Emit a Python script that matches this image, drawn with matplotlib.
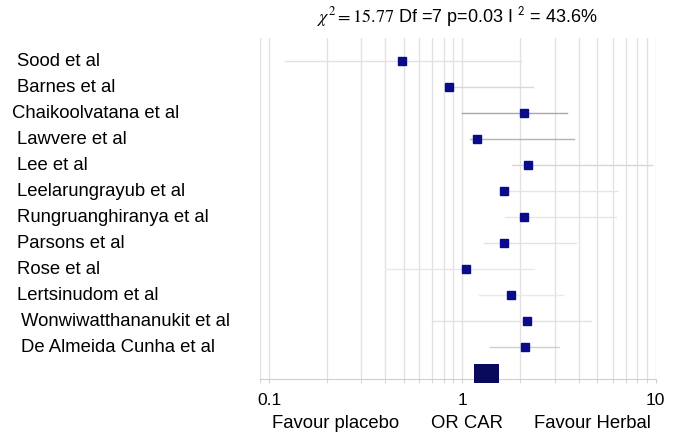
import numpy as np
import matplotlib
matplotlib.use('Agg')
import matplotlib.pyplot as plt
from matplotlib.ticker import LogLocator, NullFormatter

plt.rcParams['font.family'] = ['Liberation Sans', 'DejaVu Sans']
plt.rcParams['mathtext.fontset'] = 'stix'

# studies, odds ratios and confidence intervals
studies = ['Sood et al', 'Barnes et al', 'Chaikoolvatana et al', 'Lawvere et al',
           'Lee et al', 'Leelarungrayub et al', 'Rungruanghiranya et al',
           'Parsons et al', 'Rose et al', 'Lertsinudom et al',
           'Wonwiwatthananukit et al', 'De Almeida Cunha et al']
odds = [0.49, 0.85, 2.08, 1.19, 2.18, 1.64, 2.08, 1.64, 1.04, 1.79, 2.15, 2.10]
ci_low = [0.121, 0.85, 1.00, 1.10, 1.80, 1.60, 1.67, 1.29, 0.41, 1.22, 0.70, 1.39]
ci_high = [2.01, 2.31, 3.50, 3.80, 9.6, 6.4, 6.25, 3.88, 2.36, 3.30, 4.64, 3.18]
pooled_or = 1.34
pooled_low = 1.154
pooled_high = 1.555

# styling
line_grey = ['#e2e2e2', '#d8d8d8', '#a8a8a8', '#b4b4b4', '#d6d6d6', '#e6e6e6',
             '#e6e6e6', '#e2e2e2', '#e8e8e8', '#eaeaea', '#e2e2e2', '#cfcfcf']
label_shift = [0, 0, -5, 0, 0, 0, 0, 0, 0, 0, 4, 4]  # px

W, H = 697, 444
fig = plt.figure(figsize=(W / 100, H / 100), dpi=100)
ax = fig.add_axes([260 / W, 1 - 379 / H, (656 - 260) / W, (379 - 38) / H])

ypos = np.arange(1, len(studies) + 1)
for i in range(len(studies)):
    ax.plot([ci_low[i], ci_high[i]], [ypos[i], ypos[i]], color=line_grey[i], lw=1, zorder=2)
ax.plot(odds, ypos, 's', color='#0a0a8c', ms=5.2, zorder=3)
ax.barh(len(studies) + 1, pooled_high - pooled_low, left=pooled_low, height=0.73,
        color='#0a0a5c', zorder=3, clip_on=False)

ax.set_xscale('log')
ax.set_xlim(0.0898, 10.05)
ax.set_ylim(13.23, 0.12)
ax.xaxis.set_major_locator(LogLocator(base=10))
ax.xaxis.set_minor_locator(LogLocator(base=10, subs=np.arange(2, 10)))
ax.xaxis.set_minor_formatter(NullFormatter())
ax.set_xticks([0.1, 1, 10])
ax.set_xticklabels(['0.1', '1', '10'], fontsize=12.5)
ax.grid(True, which='both', axis='x', color='#e2e2e2', lw=1, zorder=0)
ax.set_yticks([])
ax.tick_params(axis='x', which='both', length=3, color='#d0d0d0', pad=7)
for s in ['top', 'right', 'left']:
    ax.spines[s].set_visible(False)
ax.spines['bottom'].set_color('#cfcfcf')

for i, name in enumerate(studies):
    fig.text((17 + label_shift[i]) / W, 1 - (61 + 26 * i) / H, name,
             fontsize=13.3, ha='left', va='center')

fig.text(457 / W, 1 - 17 / H,
         r'$\chi^2=15.77$ Df =7 p=0.03 I $^{\mathsf{2}}$ = 43.6%',
         fontsize=13, ha='center', va='center')

fig.text(336 / W, 1 - 423 / H, 'Favour placebo', fontsize=13.3, ha='center', va='center')
fig.text(467 / W, 1 - 423 / H, 'OR CAR', fontsize=13.3, ha='center', va='center')
fig.text(592 / W, 1 - 423 / H, 'Favour Herbal', fontsize=13.3, ha='center', va='center')

fig.savefig('out.png', dpi=100)
